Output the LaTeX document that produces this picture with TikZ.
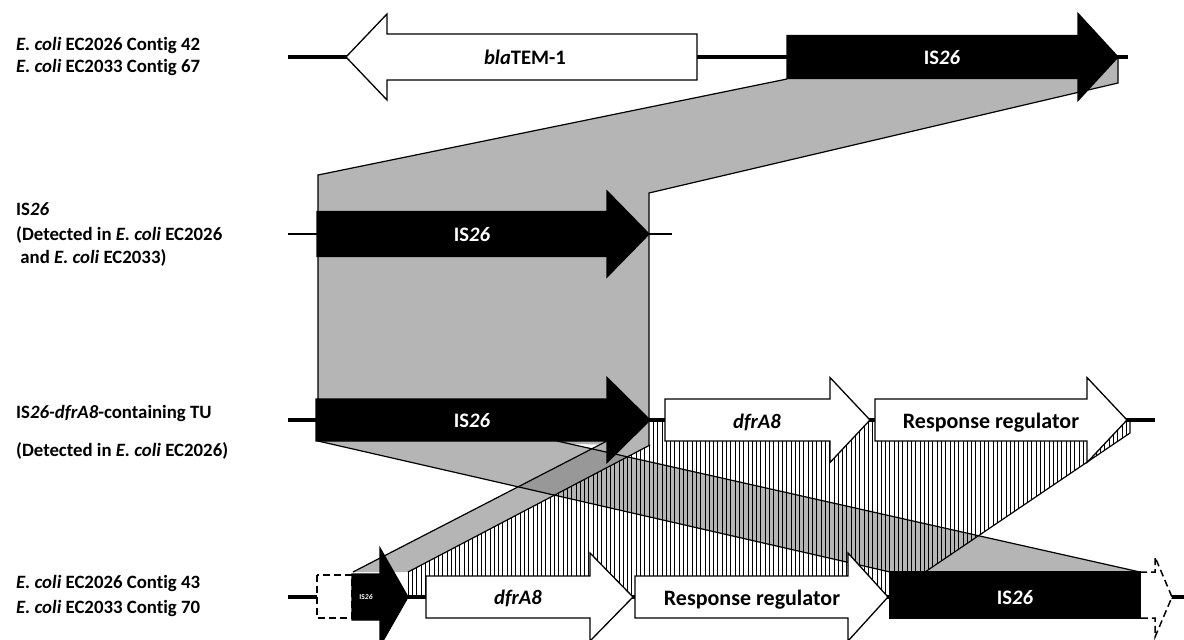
\documentclass[tikz,border=0pt]{standalone}
\usepackage{fontspec}
\setmainfont{Carlito}[Ligatures=NoCommon]
\definecolor{bandgrey}{RGB}{181,181,181}
\definecolor{bandover}{RGB}{152,152,152}
\tikzset{
  geneW/.style={draw=black,fill=white,line width=1.3pt,line join=miter},
  geneB/.style={draw=black,fill=black,line width=1.3pt,line join=miter},
  bandfill/.style={fill=bandgrey},
  bandover/.style={fill=bandover},
  bandedge/.style={draw=black,line width=1.2pt},
  backbone/.style={line width=4pt},
  thinbone/.style={line width=1.3pt},
  dashbox/.style={draw=black,fill=white,line width=1.5pt,dash pattern=on 7pt off 4pt},
  rowlbl/.style={anchor=base west,inner sep=0pt,font=\bfseries\fontsize{18.8}{22}\selectfont},
  genelbl/.style={anchor=base,inner sep=0pt,font=\bfseries\fontsize{20.6}{24}\selectfont},
  genelblW/.style={genelbl,text=white},
  rrlbl/.style={anchor=base,inner sep=0pt,font=\bfseries\fontsize{22}{26}\selectfont},
  hatchline/.style={line width=0.9pt},
}
\newcommand{\GeneR}[7]{\path[#1] (#2,{#5-#6}) -- (#3,{#5-#6}) -- (#3,{#5-#7}) -- (#4,#5) -- (#3,{#5+#7}) -- (#3,{#5+#6}) -- (#2,{#5+#6}) -- cycle;}
\begin{document}
\begin{tikzpicture}[x=1pt,y=-1pt]
\clip (0,0) rectangle (1184,640);
\fill[white] (0,0) rectangle (1184,640);

% big grey link: top IS26 -> middle IS26 -> TU IS26
\fill[bandfill] (318,441) -- (318,175) -- (787,79) -- (787,57) -- (1118,57) -- (1118,83) -- (649,193) -- (649,445) -- cycle;
% band A: TU IS26 -> bottom right IS26
\fill[bandfill] (318,441) -- (557,441) -- (1140,572) -- (890,572) -- cycle;
% band B: TU IS26 -> bottom small IS26
\fill[bandfill] (607,441) -- (650,445) -- (408,572) -- (353,572) -- cycle;
\begin{scope}
  \clip (318,441) -- (557,441) -- (1140,572) -- (890,572) -- cycle;
  \fill[bandover] (607,441) -- (650,445) -- (408,572) -- (353,572) -- cycle;
\end{scope}
% band C: hatched dfrA8 + response regulator
\begin{scope}
  \clip (650,445) -- (408,572) -- (408,597) -- (925,597) -- (925,572) -- (1130,433) -- (1130,420) -- (650,420) -- cycle;
  \foreach \x in {404,408.3,...,1140} \draw[hatchline] (\x,415) -- (\x,600);
\end{scope}
% band edges
\draw[bandedge] (318,441) -- (318,175) -- (787,79);
\draw[bandedge] (1118,57) -- (1118,83) -- (649,193) -- (649,445);
\draw[bandedge] (318,441) -- (890,572);
\draw[bandedge] (557,441) -- (1140,572);
\draw[bandedge] (607,441) -- (353,572);
\draw[bandedge] (650,445) -- (408,572);
\draw[bandedge] (925,572) -- (1130,433) -- (1130,420);

% backbones
\draw[backbone] (288,57) -- (1128,57);
\draw[thinbone] (288,234) -- (672,234);
\draw[backbone] (288,420) -- (1155,420);
\draw[backbone] (288,597) -- (317,597);
\draw[backbone] (352,597) -- (1184,597);

% top row
\GeneR{geneW}{697}{387}{346}{57}{23}{43}
\GeneR{geneB}{787}{1078}{1118}{57}{21.5}{43.5}
% middle row
\GeneR{geneB}{317}{607}{649}{234}{22.5}{43}
% TU row
\GeneR{geneB}{316}{607}{650}{420}{21}{42.5}
\GeneR{geneW}{665}{830}{870}{420}{21}{42.5}
\GeneR{geneW}{875}{1087}{1127}{420}{21}{42.5}
% bottom row
\draw[dashbox] (317,575) rectangle (352,618);
\GeneR{geneB}{352}{380}{408}{597}{23}{49}
\GeneR{geneW}{426}{590}{633}{597}{21}{44}
\GeneR{geneW}{635}{848}{888}{597}{21}{44}
\path[dashbox] (1140,572) -- (1155,572) -- (1155,557) -- (1172,597) -- (1155,637) -- (1155,618) -- (1140,618);
\path[geneB] (890,572) rectangle (1140,618);

% gene labels
\node[genelbl]  (tbla) at (525,64.5) {\textit{bla}TEM-1};
\node[genelblW] (tis)  at (942,64.5) {IS\textit{26}};
\node[genelblW] (mis)  at (472,241.5) {IS\textit{26}};
\node[genelblW] (uis)  at (472,427.5) {IS\textit{26}};
\node[genelbl]  (udfr) at (757,428) {\textit{dfrA8}};
\node[rrlbl]    (urr)  at (991,428) {Response regulator};
\node[anchor=base,inner sep=0pt,text=white,font=\bfseries\fontsize{7.5}{8}\selectfont] (bis) at (366,599.5) {IS\textit{26}};
\node[genelbl]  (bdfr) at (518,604.5) {\textit{dfrA8}};
\node[rrlbl]    (brr)  at (752,605) {Response regulator};
\node[genelblW] (bis2) at (1015,604.5) {IS\textit{26}};

% row labels
\node[rowlbl] (l1a) at (16,50) {\textit{E. coli} EC2026 Contig 42};
\node[rowlbl] (l1b) at (16,72.3) {\textit{E. coli} EC2033 Contig 67};
\node[rowlbl] (l2a) at (16,215.5) {IS\textit{26}};
\node[rowlbl] (l2b) at (16,240) {(Detected in \textit{E. coli} EC2026};
\node[rowlbl] (l2c) at (16,263) {\ and \textit{E. coli} EC2033)};
\node[rowlbl] (l3a) at (16,418) {IS\textit{26-dfrA8}-containing TU};
\node[rowlbl] (l3b) at (16,456) {(Detected in \textit{E. coli} EC2026)};
\node[rowlbl] (l4a) at (16,588) {\textit{E. coli} EC2026 Contig 43};
\node[rowlbl] (l4b) at (16,613) {\textit{E. coli} EC2033 Contig 70};
\end{tikzpicture}
\end{document}
